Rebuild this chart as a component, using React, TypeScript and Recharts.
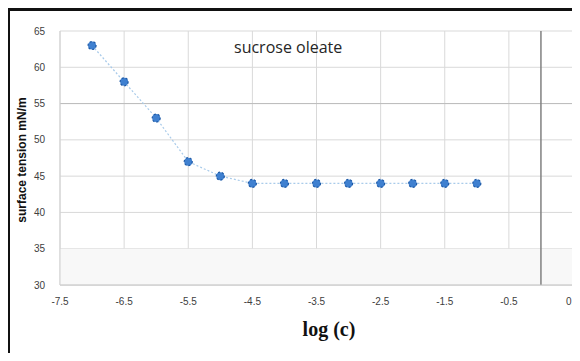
import { LineChart, Line, XAxis, YAxis, CartesianGrid, ReferenceLine, ReferenceArea } from "recharts"

// surface tension of sucrose oleate vs log concentration
const logC = [-7, -6.5, -6, -5.5, -5, -4.5, -4, -3.5, -3, -2.5, -2, -1.5, -1]
const tension = [63, 58, 53, 47, 45, 44, 44, 44, 44, 44, 44, 44, 44]
const xTicks = [-7.5, -6.5, -5.5, -4.5, -3.5, -2.5, -1.5, -0.5, 0.5]
const yTicks = [30, 35, 40, 45, 50, 55, 60, 65]

const data = logC.map((x, i) => ({ x, y: tension[i] }))

const tickStyle = { fontSize: 10, fill: "#404040", fontFamily: "Liberation Sans, sans-serif" }

export default function App() {
  return (
    <div style={{ position: "relative", width: 580, height: 361, margin: -8, background: "#fff", overflow: "hidden" }}>
      {/* caption from the scan, cut off at the top like the source */}
      <div
        style={{
          position: "absolute",
          left: 268,
          top: -10,
          whiteSpace: "nowrap",
          fontFamily: "Liberation Serif, serif",
          fontWeight: "bold",
          fontSize: 16,
          color: "#222",
        }}
      >
        S.T(SO) vs log (c) at room temp.
      </div>
      <div style={{ position: "absolute", left: 3, top: 5, width: 577, height: 6, background: "#111" }} />
      <div style={{ position: "absolute", left: 3, top: 5, width: 7, height: 356, background: "#111" }} />
      <div style={{ position: "absolute", left: 3, top: 355, width: 577, height: 6, background: "#111" }} />

      <div style={{ position: "absolute", left: 0, top: 0 }}>
        <LineChart width={580} height={361} data={data} margin={{ top: 31, right: 7, left: 20, bottom: 46 }}>
          <ReferenceArea x1={-7.5} x2={0.5} y1={30} y2={35} fill="#f8f8f8" fillOpacity={1} stroke="none" />
          <CartesianGrid stroke="#d9d9d9" />
          <ReferenceLine y={55} stroke="#bcbcbc" strokeWidth={1} />
          <ReferenceLine x={0} stroke="#808080" strokeWidth={1.5} />
          <XAxis
            type="number"
            dataKey="x"
            domain={[-7.5, 0.5]}
            ticks={xTicks}
            height={30}
            tick={tickStyle}
            tickLine={false}
            tickSize={6}
            tickMargin={7}
            axisLine={{ stroke: "#bfbfbf" }}
          />
          <YAxis
            type="number"
            domain={[30, 65]}
            ticks={yTicks}
            width={40}
            tick={tickStyle}
            tickLine={false}
            tickSize={6}
            tickMargin={9}
            axisLine={{ stroke: "#d0d0d0" }}
          />
          <Line
            type="linear"
            dataKey="y"
            stroke="#a9cbea"
            strokeWidth={1.2}
            strokeDasharray="2 2"
            dot={{ r: 4, fill: "#3f80d0", stroke: "#1f5aa6", strokeWidth: 1.2 }}
            isAnimationActive={false}
          />
        </LineChart>
      </div>
      {/* right edge of the plot frame */}
      <div style={{ position: "absolute", left: 572, top: 31, width: 1, height: 254, background: "#d9d9d9" }} />

      <div
        style={{
          position: "absolute",
          left: 234,
          top: 36,
          fontFamily: "Open Sans, sans-serif",
          fontSize: 16,
          color: "#262626",
          whiteSpace: "nowrap",
        }}
      >
        sucrose oleate
      </div>
      <div
        style={{
          position: "absolute",
          left: 22,
          top: 160,
          transform: "translate(-50%, -50%) rotate(-90deg)",
          fontFamily: "Liberation Sans, sans-serif",
          fontWeight: "bold",
          fontSize: 12,
          color: "#111",
          whiteSpace: "nowrap",
        }}
      >
        surface tension mN/m
      </div>
      <div
        style={{
          position: "absolute",
          left: 329,
          top: 329,
          transform: "translate(-50%, -50%)",
          fontFamily: "Liberation Serif, serif",
          fontWeight: "bold",
          fontSize: 20,
          color: "#111",
          whiteSpace: "nowrap",
        }}
      >
        log (c)
      </div>
    </div>
  )
}
